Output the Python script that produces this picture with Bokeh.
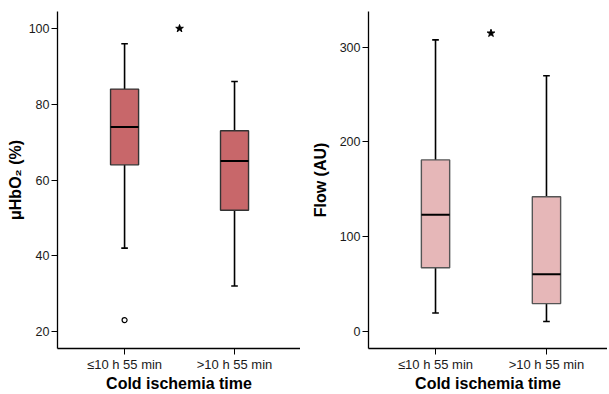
from bokeh.plotting import figure
from bokeh.layouts import row
from bokeh.models import Range1d, FixedTicker
from bokeh.embed import file_html
from bokeh.resources import INLINE

categories = ["≤10 h 55 min", ">10 h 55 min"]
xpos = [1, 2]

# Panel A: µHbO2 (%)
hbo2_low = [42, 32]
hbo2_q1 = [64, 52]
hbo2_med = [74, 65]
hbo2_q3 = [84, 73]
hbo2_high = [96, 86]
hbo2_outlier_x = [1]
hbo2_outlier_y = [23]
hbo2_star = [100]

# Panel B: Flow (AU)
flow_low = [19, 10]
flow_q1 = [67, 29]
flow_med = [123, 60]
flow_q3 = [181, 142]
flow_high = [308, 270]
flow_star = [315]

FONT = "Liberation Sans"


def make_panel(width, height, min_left, min_right, xr, yr, yticks, ylabel, ylabel_standoff,
               low, q1, med, q3, high, fill, edge, star_y, outx=None, outy=None):
    p = figure(width=width, height=height, output_backend="svg", toolbar_location=None,
               x_range=Range1d(*xr), y_range=Range1d(*yr),
               min_border_left=min_left, min_border_right=min_right,
               min_border_top=11, min_border_bottom=0)
    p.outline_line_color = None
    p.grid.visible = False
    p.background_fill_color = "white"
    p.border_fill_color = "white"

    bw = 0.255
    cap = 0.03
    # whiskers
    p.segment(x0=xpos, y0=low, x1=xpos, y1=q1, line_color="black", line_width=1.6)
    p.segment(x0=xpos, y0=q3, x1=xpos, y1=high, line_color="black", line_width=1.6)
    p.segment(x0=[x - cap for x in xpos], y0=low, x1=[x + cap for x in xpos], y1=low,
              line_color="black", line_width=1.6)
    p.segment(x0=[x - cap for x in xpos], y0=high, x1=[x + cap for x in xpos], y1=high,
              line_color="black", line_width=1.6)
    # boxes
    p.vbar(x=xpos, width=bw, bottom=q1, top=q3, fill_color=fill, line_color=edge, line_width=1.4)
    # medians
    p.segment(x0=[x - bw / 2 for x in xpos], y0=med, x1=[x + bw / 2 for x in xpos], y1=med,
              line_color="black", line_width=2)
    if outx is not None:
        p.scatter(x=outx, y=outy, marker="circle", size=5, fill_color="white",
                  line_color="black", line_width=1.2)
    p.scatter(x=[1.5], y=star_y, marker="star", size=8, fill_color="black", line_color="black")

    p.xaxis.ticker = FixedTicker(ticks=xpos)
    p.xaxis.major_label_overrides = {1: categories[0], 2: categories[1]}
    p.yaxis.ticker = FixedTicker(ticks=yticks)
    for ax in (p.xaxis[0], p.yaxis[0]):
        ax.axis_line_color = "black"
        ax.axis_line_width = 1.3
        ax.major_tick_line_color = "black"
        ax.major_tick_line_width = 1
        ax.major_tick_in = 0
        ax.major_tick_out = 6
        ax.minor_tick_line_color = None
        ax.major_label_text_font = FONT
        ax.major_label_text_font_size = "12.5px"
        ax.major_label_text_color = "#1a1a1a"
        ax.axis_label_text_font = FONT
        ax.axis_label_text_font_style = "bold"
        ax.axis_label_text_font_size = "16px"
        ax.axis_label_text_color = "black"
    p.xaxis.major_label_text_font_size = "13px"
    p.xaxis.axis_label = "Cold ischemia time"
    p.xaxis.major_label_standoff = 2
    p.xaxis.axis_label_standoff = 0
    p.yaxis.axis_label = ylabel
    p.yaxis.major_label_standoff = 2
    p.yaxis.axis_label_standoff = ylabel_standoff
    return p


p1 = make_panel(300, 394, 57, 0, (0.39, 2.6), (15.5, 104.5), [20, 40, 60, 80, 100],
                "μHbO₂ (%)", 2, hbo2_low, hbo2_q1, hbo2_med, hbo2_q3, hbo2_high,
                "#C8676A", "#333333", hbo2_star, hbo2_outlier_x, hbo2_outlier_y)
p2 = make_panel(307, 394, 68, 0, (0.396, 2.55), (-18.5, 338), [0, 100, 200, 300],
                "Flow (AU)", 8, flow_low, flow_q1, flow_med, flow_q3, flow_high,
                "#E6B7B8", "#555555", flow_star)

layout = row(p1, p2)
open("out.html", "w").write(file_html(layout, INLINE))
